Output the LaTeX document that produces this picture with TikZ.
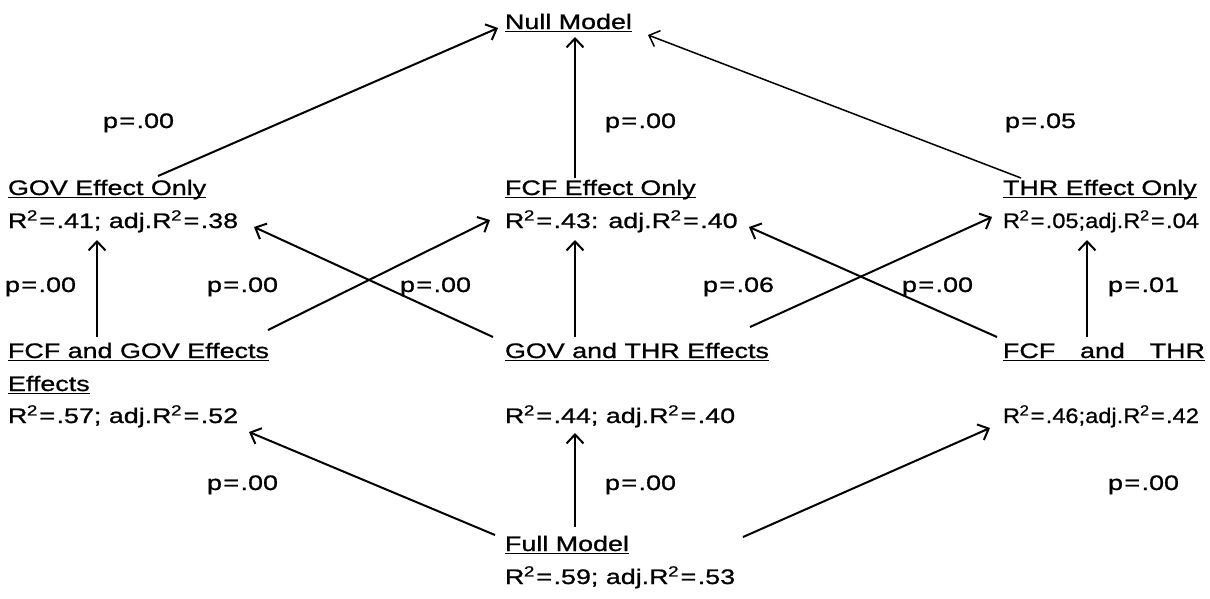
\documentclass[tikz,border=0pt]{standalone}
\usepackage{fontspec}
\setmainfont{Liberation Sans}[FakeStretch=1.28, FakeBold=0.9]
\usepackage{graphicx}
\usetikzlibrary{arrows.meta,calc}

% underlined heading with a heavier rule than \underline gives
\newcommand\ulx[1]{\setbox0\hbox{#1}\rlap{\rule[-3.4pt]{\wd0}{1.6pt}}\box0}
\newcommand\Rsq{R\textsuperscript{\kern-0.5pt 2}}
\newcommand\eqs{\kern1.5pt=\kern1.5pt}
\newcommand\narrowtxt[1]{\scalebox{0.88}[1]{#1}}

\begin{document}
\begin{tikzpicture}[x=1pt,y=-1pt,
  font=\fontsize{21}{25}\selectfont,
  lbl/.style={anchor=base west, inner sep=0pt, outer sep=0pt},
  arr/.style={line width=2pt, -{Straight Barb[length=9pt,width=17pt]}}]

\fill[white, use as bounding box] (0,0) rectangle (1210,598);

% models
\node[lbl] (null)  at (505,29)  {\ulx{Null Model}};

\node[lbl] (govT)  at (8,195)   {\ulx{GOV Effect Only}};
\node[lbl] (govR)  at (8,228)   {\Rsq\eqs.41; adj.\Rsq\eqs.38};
\node[lbl] (fcfT)  at (505,195) {\ulx{FCF Effect Only}};
\node[lbl] (fcfR)  at (505,228) {\Rsq\eqs.43: adj.\Rsq\eqs.40};
\node[lbl] (thrT)  at (1003,195) {\ulx{THR Effect Only}};
\node[lbl] (thrR)  at (1003,228) {\narrowtxt{\Rsq\eqs.05;adj.\Rsq\eqs.04}};

\node[lbl] (fgT)   at (8,358)   {\ulx{FCF and GOV Effects}};
\node[lbl] (fgE)   at (8,391)   {\ulx{Effects}};
\node[lbl] (fgR)   at (8,423)   {\Rsq\eqs.57; adj.\Rsq\eqs.52};
\node[lbl] (gtT)   at (505,358) {\ulx{GOV and THR Effects}};
\node[lbl] (gtR)   at (505,423) {\Rsq\eqs.44; adj.\Rsq\eqs.40};
\node[lbl] (ftT)   at (1003,358) {\ulx{\makebox[202pt][s]{FCF and THR}}};
\node[lbl] (ftR)   at (1003,423) {\narrowtxt{\Rsq\eqs.46;adj.\Rsq\eqs.42}};

\node[lbl] (fullT) at (505,551) {\ulx{Full Model}};
\node[lbl] (fullR) at (505,584) {\Rsq\eqs.59; adj.\Rsq\eqs.53};

% significance labels
\node[lbl] (pa) at (103,128)  {p\eqs.00};
\node[lbl] (pb) at (605,128)  {p\eqs.00};
\node[lbl] (pc) at (1005,128) {p\eqs.05};
\node[lbl] (pd) at (5,292)    {p\eqs.00};
\node[lbl] (pe) at (207,292)  {p\eqs.00};
\node[lbl] (pf) at (400,292)  {p\eqs.00};
\node[lbl] (pg) at (703,292)  {p\eqs.06};
\node[lbl] (ph) at (902,292)  {p\eqs.00};
\node[lbl] (pi) at (1108,292) {p\eqs.01};
\node[lbl] (pj) at (207,490)  {p\eqs.00};
\node[lbl] (pk) at (605,490)  {p\eqs.00};
\node[lbl] (pl) at (1108,490) {p\eqs.00};

% one-effect models to the null model
\draw[arr] ($(govT.base west)+(150,-19)$) -- ($(null.base west)+(-7,-1)$);
\draw[arr] ($(fcfT.base west)+(70,-17)$)  -- ($(null.base west)+(70,8)$);
\draw[arr, line width=1.5pt] ($(thrT.base west)+(18,-17)$) -- ($(null.base west)+(143,6)$);

% two-effect models to the one-effect models
\draw[arr] ($(fgT.base west)+(89,-21)$)  -- ($(govR.base west)+(89,12)$);
\draw[arr] ($(fgT.base west)+(260,-28)$) -- ($(fcfR.base west)+(-15,-8)$);
\draw[arr] ($(gtT.base west)+(-12,-21)$) -- ($(govR.base west)+(246,-1)$);
\draw[arr] ($(gtT.base west)+(70,-21)$)  -- ($(fcfR.base west)+(70,12)$);
\draw[arr] ($(gtT.base west)+(245,-31)$) -- ($(thrR.base west)+(-11,-11)$);
\draw[arr] ($(ftT.base west)+(-6,-21)$)  -- ($(fcfR.base west)+(244,-1)$);
\draw[arr] ($(ftT.base west)+(84,-21)$)  -- ($(thrR.base west)+(84,12)$);

% full model to the two-effect models
\draw[arr] ($(fullT.base west)+(-10,-16)$) -- ($(fgR.base west)+(241,9)$);
\draw[arr] ($(fullT.base west)+(70,-24)$)  -- ($(gtR.base west)+(70,10)$);
\draw[arr] ($(fullT.base west)+(238,-14)$) -- ($(ftR.base west)+(-13,5)$);
\end{tikzpicture}
\end{document}
